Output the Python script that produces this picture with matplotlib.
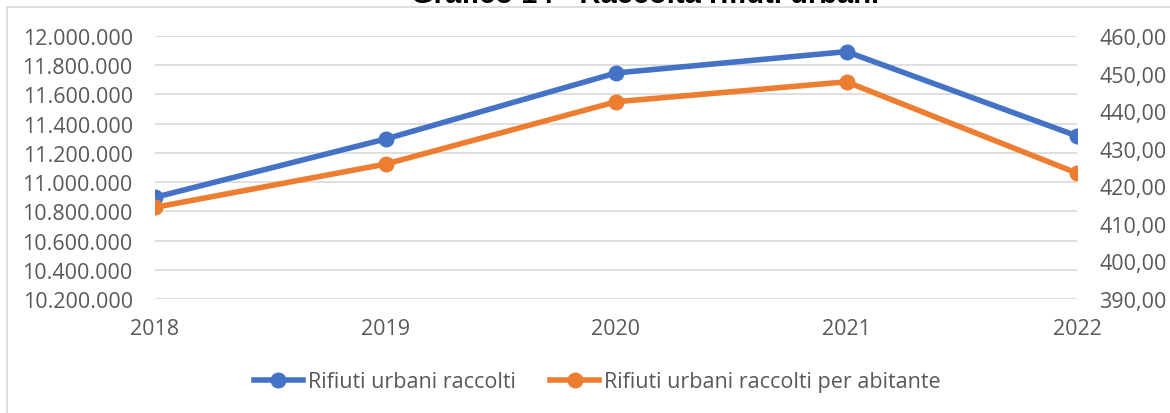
import matplotlib
matplotlib.use("Agg")
import matplotlib.pyplot as plt
from matplotlib.lines import Line2D
from matplotlib.ticker import FuncFormatter

years = [2018, 2019, 2020, 2021, 2022]
rifiuti_raccolti = [10896000, 11295000, 11747000, 11893000, 11316000]
rifiuti_per_abitante = [414.4, 425.9, 442.5, 447.8, 423.5]
label_raccolti = "Rifiuti urbani raccolti"
label_abitante = "Rifiuti urbani raccolti per abitante"
title = "Grafico 14 - Raccolta rifiuti urbani"

W, H = 1170, 414
fig = plt.figure(figsize=(W / 100, H / 100), dpi=100)
fig.patch.set_facecolor("white")

FONT = "Open Sans"
FS = 15.5
TXT = "#595959"
GRID = "#D9D9D9"
BLUE = "#4472C4"
ORANGE = "#ED7D31"
LW = 4.0
MS = 10.5

ax = fig.add_axes([155 / W, 1 - 300 / H, (1077 - 155) / W, (300 - 37) / H])
ax2 = ax.twinx()

ax.plot(years, rifiuti_raccolti, color=BLUE, lw=LW, marker="o", ms=MS, zorder=3)
ax2.plot(years, rifiuti_per_abitante, color=ORANGE, lw=LW, marker="o", ms=MS, zorder=3)

ax.set_xlim(2018, 2022)
ax.set_ylim(10200000, 12000000)
ax2.set_ylim(390, 460)
ax.set_yticks(range(10200000, 12000001, 200000))
ax2.set_yticks(range(390, 461, 10))
ax.set_xticks(years)

ax.yaxis.set_major_formatter(FuncFormatter(lambda v, p: f"{int(v):,}".replace(",", ".")))
ax2.yaxis.set_major_formatter(FuncFormatter(lambda v, p: f"{v:.2f}".replace(".", ",")))

ax.grid(axis="y", color=GRID, lw=1.2)
ax.set_axisbelow(True)
for a in (ax, ax2):
    for s in a.spines.values():
        s.set_visible(False)
    a.tick_params(length=0, labelsize=FS, labelcolor=TXT)
    for lab in a.get_xticklabels() + a.get_yticklabels():
        lab.set_fontfamily(FONT)
ax.tick_params(axis="y", pad=16)
ax2.tick_params(axis="y", pad=16)
ax.tick_params(axis="x", pad=14)
ax2.set_zorder(ax.get_zorder() + 1)
ax2.patch.set_visible(False)

# chart border (partial, light gray)
fig.add_artist(Line2D([7 / W, 7 / W], [0, 1 - 8 / H], color=GRID, lw=1.2))
fig.add_artist(Line2D([7 / W, 1], [1 - 8 / H, 1 - 8 / H], color=GRID, lw=1.2))

fig.text(645 / W, 1 - 3 / H, title, ha="center", va="baseline",
         fontsize=21, fontweight="bold", family="Liberation Sans", color="black")

handles = [Line2D([], [], color=BLUE, lw=LW, marker="o", ms=MS),
           Line2D([], [], color=ORANGE, lw=LW, marker="o", ms=MS)]
leg = fig.legend(handles, [label_raccolti, label_abitante], loc="center",
                 bbox_to_anchor=(597 / W, 1 - 383 / H), ncol=2, frameon=False,
                 handlelength=2.3, handletextpad=0.2, columnspacing=1.6,
                 prop={"family": FONT, "size": FS})
for t in leg.get_texts():
    t.set_color(TXT)

fig.savefig("out.png", dpi=100)
